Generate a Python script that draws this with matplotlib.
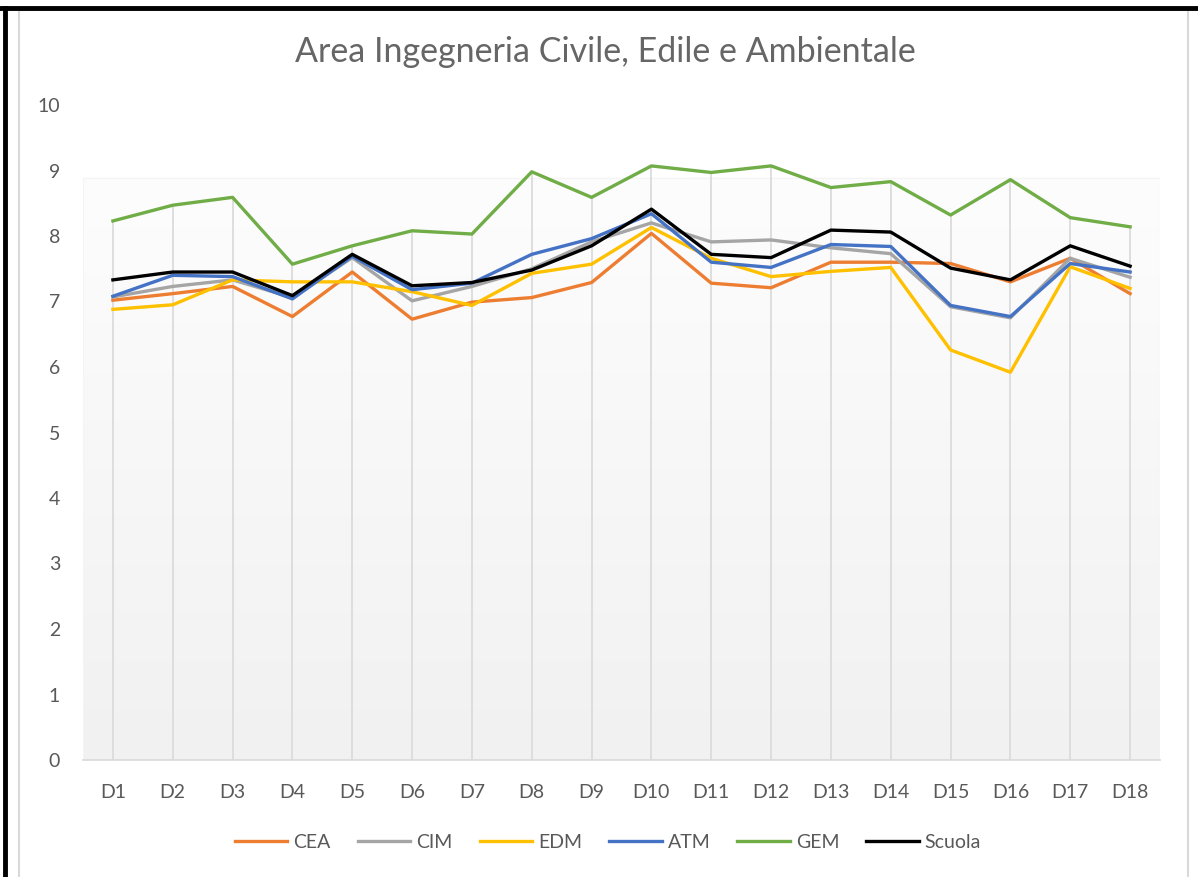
import numpy as np
import matplotlib.pyplot as plt
from matplotlib.lines import Line2D
from matplotlib.patches import Rectangle
from matplotlib.colors import LinearSegmentedColormap

categories = ['D%d' % i for i in range(1, 19)]

cea = [7.02, 7.12, 7.23, 6.77, 7.45, 6.73, 6.99, 7.06, 7.29, 8.04, 7.28, 7.21, 7.60, 7.60, 7.58, 7.30, 7.66, 7.12]
cim = [7.07, 7.23, 7.33, 7.06, 7.67, 7.01, 7.23, 7.50, 7.91, 8.20, 7.91, 7.94, 7.82, 7.73, 6.92, 6.75, 7.66, 7.37]
edm = [6.88, 6.95, 7.33, 7.30, 7.30, 7.15, 6.94, 7.43, 7.57, 8.13, 7.66, 7.38, 7.46, 7.52, 6.26, 5.92, 7.53, 7.20]
atm = [7.08, 7.40, 7.38, 7.04, 7.69, 7.18, 7.28, 7.72, 7.96, 8.34, 7.60, 7.52, 7.87, 7.84, 6.94, 6.77, 7.58, 7.45]
gem = [8.23, 8.47, 8.59, 7.57, 7.85, 8.08, 8.03, 8.98, 8.59, 9.07, 8.97, 9.07, 8.74, 8.83, 8.32, 8.86, 8.28, 8.14]
scuola = [7.33, 7.45, 7.45, 7.09, 7.72, 7.24, 7.29, 7.48, 7.85, 8.41, 7.72, 7.67, 8.09, 8.06, 7.51, 7.33, 7.85, 7.54]

series_names = ['CEA', 'CIM', 'EDM', 'ATM', 'GEM', 'Scuola']
series_colors = ['#ED7D31', '#A5A5A5', '#FFC000', '#4472C4', '#70AD47', '#000000']

FONT = ['Lato', 'DejaVu Sans']
TXT = '#595959'


def main():
    plt.rcParams['font.family'] = FONT
    fig = plt.figure(figsize=(11.98, 8.77), dpi=100)
    W, H = 1198, 877
    ax = fig.add_axes([83 / W, 1 - 760 / H, (1160 - 83) / W, (760 - 105) / H])

    data = [cea, cim, edm, atm, gem, scuola]
    x = np.arange(len(categories))

    # plot area gradient (white -> light gray)
    grad = np.linspace(0, 1, 256).reshape(-1, 1)
    cmap = LinearSegmentedColormap.from_list('g', ['#fdfdfd', '#f1f1f1'])
    ax.imshow(grad, cmap=cmap, aspect='auto', extent=(-0.5, 17.5, 0, 8.89),
              origin='upper', zorder=0)
    ax.add_patch(Rectangle((-0.5, 0), 18, 8.89, fill=False, ec='#f4f4f4', lw=0.8, zorder=0.5))

    # drop lines from the highest point to the axis
    tops = np.max(np.array(data), axis=0)
    ax.vlines(x, 0, tops, colors='#d9d9d9', lw=1.2, zorder=1)

    for vals, name, col in zip(data, series_names, series_colors):
        ax.plot(x, vals, color=col, lw=2.4, label=name, zorder=3)

    ax.set_xlim(-0.5, 17.5)
    ax.set_ylim(0, 10)
    ax.set_yticks(range(0, 11))
    ax.set_xticks(x)
    ax.set_xticklabels(categories)
    for s in ['top', 'right', 'left']:
        ax.spines[s].set_visible(False)
    ax.spines['bottom'].set_color('#d9d9d9')
    ax.spines['bottom'].set_linewidth(1.2)
    ax.tick_params(length=0, colors=TXT, labelsize=14)
    ax.tick_params(axis='y', pad=16.5)
    ax.tick_params(axis='x', pad=17.5)
    ax.set_facecolor('white')

    fig.text(605 / W, 1 - 52 / H, 'Area Ingegneria Civile, Edile e Ambientale',
             ha='center', va='center', color='#666666', fontsize=24.5)

    leg = ax.legend(loc='center', bbox_to_anchor=(608 / W, 1 - 842 / H),
                    bbox_transform=fig.transFigure, ncol=6, frameon=False,
                    fontsize=14, handlelength=2.7, columnspacing=1.4,
                    handletextpad=0.3)
    for t in leg.get_texts():
        t.set_color(TXT)

    # chart border and black frame
    fig.add_artist(Rectangle((19 / W, -0.01), (1188 - 19) / W, 1 - 10 / H + 0.01,
                             transform=fig.transFigure, fill=False,
                             ec='#d9d9d9', lw=1.5))
    fig.add_artist(Line2D([5 / W, 5 / W], [0, 1 - 8 / H], transform=fig.transFigure,
                          color='black', lw=3.5))
    fig.add_artist(Line2D([0, 1], [1 - 8 / H, 1 - 8 / H], transform=fig.transFigure,
                          color='black', lw=3.5))

    fig.savefig('out.png', dpi=100)


if __name__ == '__main__':
    main()
